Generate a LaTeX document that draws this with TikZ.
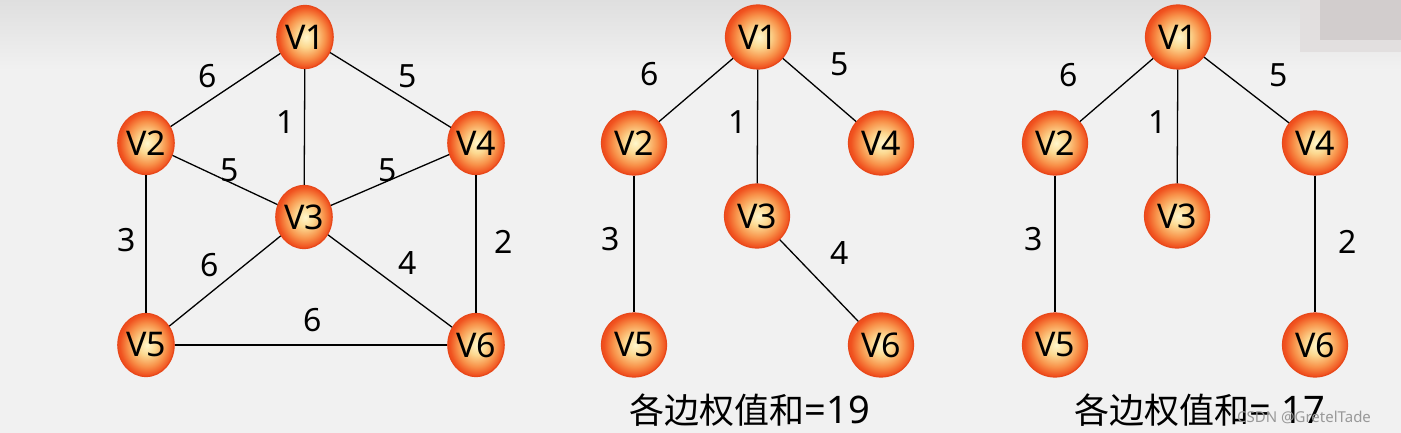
\documentclass[tikz,border=0pt]{standalone}
\usepackage{fontspec}
\setmainfont{Noto Sans}
\newfontfamily\cjk{Noto Sans CJK SC}
\usetikzlibrary{shapes.geometric}
\definecolor{bg}{HTML}{F1F1F1}
\definecolor{bgtop}{HTML}{DFDFDF}
\definecolor{ballin}{HTML}{FFF7CC}
\definecolor{ballinb}{HTML}{FCD890}
\definecolor{ballmid}{HTML}{F8924A}
\definecolor{ballout}{HTML}{F0501E}
\definecolor{ballrim}{HTML}{E8481A}
\definecolor{artA}{HTML}{D2CDCD}
\definecolor{artB}{HTML}{E2DFDF}
\pgfdeclareradialshading{ballshade}{\pgfpoint{1bp}{0bp}}{color(0bp)=(ballin); color(8bp)=(ballinb); color(17bp)=(ballmid); color(24bp)=(ballout); color(50bp)=(ballout)}
\begin{document}
\begin{tikzpicture}[x=1pt,y=-1pt,
  vtxA/.style={ellipse, draw=ballrim, line width=1.2pt, shading=ballshade,
    minimum width=56pt, minimum height=63pt, inner sep=0pt,
    font=\fontsize{34}{34}\selectfont},
  vtxB/.style={vtxA, minimum width=65pt, minimum height=64pt},
  edge/.style={line width=1.3pt, black},
  elab/.style={inner sep=0pt, font=\fontsize{32}{32}\selectfont},
  sumlab/.style={inner sep=0pt, anchor=base, font=\fontsize{35}{35}\selectfont}]
\useasboundingbox (0,0) rectangle (1401,433);
\fill[bg] (0,0) rectangle (1401,433);
\shade[top color=bgtop, bottom color=bg] (0,0) rectangle (1401,70);
\fill[artB] (1300,0) rectangle (1401,52);
\fill[artA] (1320,0) rectangle (1401,40);

% ---- graph 1 ----
\node[vtxA] (a1) at (305,37) {V1};
\node[vtxA] (a2) at (146,143) {V2};
\node[vtxA] (a4) at (476,143) {V4};
\node[vtxA] (a3) at (304,217) {V3};
\node[vtxA] (a5) at (146,345) {V5};
\node[vtxA] (a6) at (476,345) {V6};
\draw[edge] (a1) -- (a2);
\draw[edge] (a1) -- (a4);
\draw[edge] (a1) -- (a3);
\draw[edge] (a2) -- (a3);
\draw[edge] (a4) -- (a3);
\draw[edge] (a2) -- (a5);
\draw[edge] (a4) -- (a6);
\draw[edge] (a3) -- (a5);
\draw[edge] (a3) -- (a6);
\draw[edge] (a5) -- (a6);
\node[elab] (la12) at (208,76) {6};
\node[elab] (la14) at (408,76) {5};
\node[elab] (la13) at (286,122) {1};
\node[elab] (la23) at (230,170) {5};
\node[elab] (la43) at (388,170) {5};
\node[elab] (la25) at (127,240) {3};
\node[elab] (la46) at (504,242) {2};
\node[elab] (la35) at (210,265) {6};
\node[elab] (la36) at (408,263) {4};
\node[elab] (la56) at (313,320) {6};

% ---- graph 2 ----
\node[vtxB] (b1) at (758,37) {V1};
\node[vtxB] (b2) at (634,143) {V2};
\node[vtxB] (b4) at (881,143) {V4};
\node[vtxB] (b3) at (757,216) {V3};
\node[vtxB] (b5) at (634,345) {V5};
\node[vtxB] (b6) at (881,345) {V6};
\draw[edge] (b1) -- (b2);
\draw[edge] (b1) -- (b4);
\draw[edge] (b1) -- (b3);
\draw[edge] (b2) -- (b5);
\draw[edge] (b3) -- (b6);
\node[elab] (lb12) at (650,74) {6};
\node[elab] (lb14) at (840,64) {5};
\node[elab] (lb13) at (738,122) {1};
\node[elab] (lb25) at (611,239) {3};
\node[elab] (lb36) at (840,253) {4};
\node[sumlab] (sumb) at (750,423) {{\cjk 各边权值和}{\fontsize{38}{38}\selectfont =19}};

% ---- graph 3 ----
\node[vtxB] (c1) at (1178,37) {V1};
\node[vtxB] (c2) at (1055,143) {V2};
\node[vtxB] (c4) at (1315,143) {V4};
\node[vtxB] (c3) at (1177,216) {V3};
\node[vtxB] (c5) at (1055,345) {V5};
\node[vtxB] (c6) at (1315,345) {V6};
\draw[edge] (c1) -- (c2);
\draw[edge] (c1) -- (c4);
\draw[edge] (c1) -- (c3);
\draw[edge] (c2) -- (c5);
\draw[edge] (c4) -- (c6);
\node[elab] (lc12) at (1069,75) {6};
\node[elab] (lc14) at (1279,75) {5};
\node[elab] (lc13) at (1158,122) {1};
\node[elab] (lc25) at (1034,239) {3};
\node[elab] (lc46) at (1348,242) {2};
\node[sumlab] (sumc) at (1200,423) {{\cjk 各边权值和}{\fontsize{38}{38}\selectfont = 17}};
\node[inner sep=0pt, anchor=base west, text=black!40, font=\fontsize{15}{15}\selectfont] (wm) at (1237,422) {CSDN @GretelTade};
\end{tikzpicture}
\end{document}
